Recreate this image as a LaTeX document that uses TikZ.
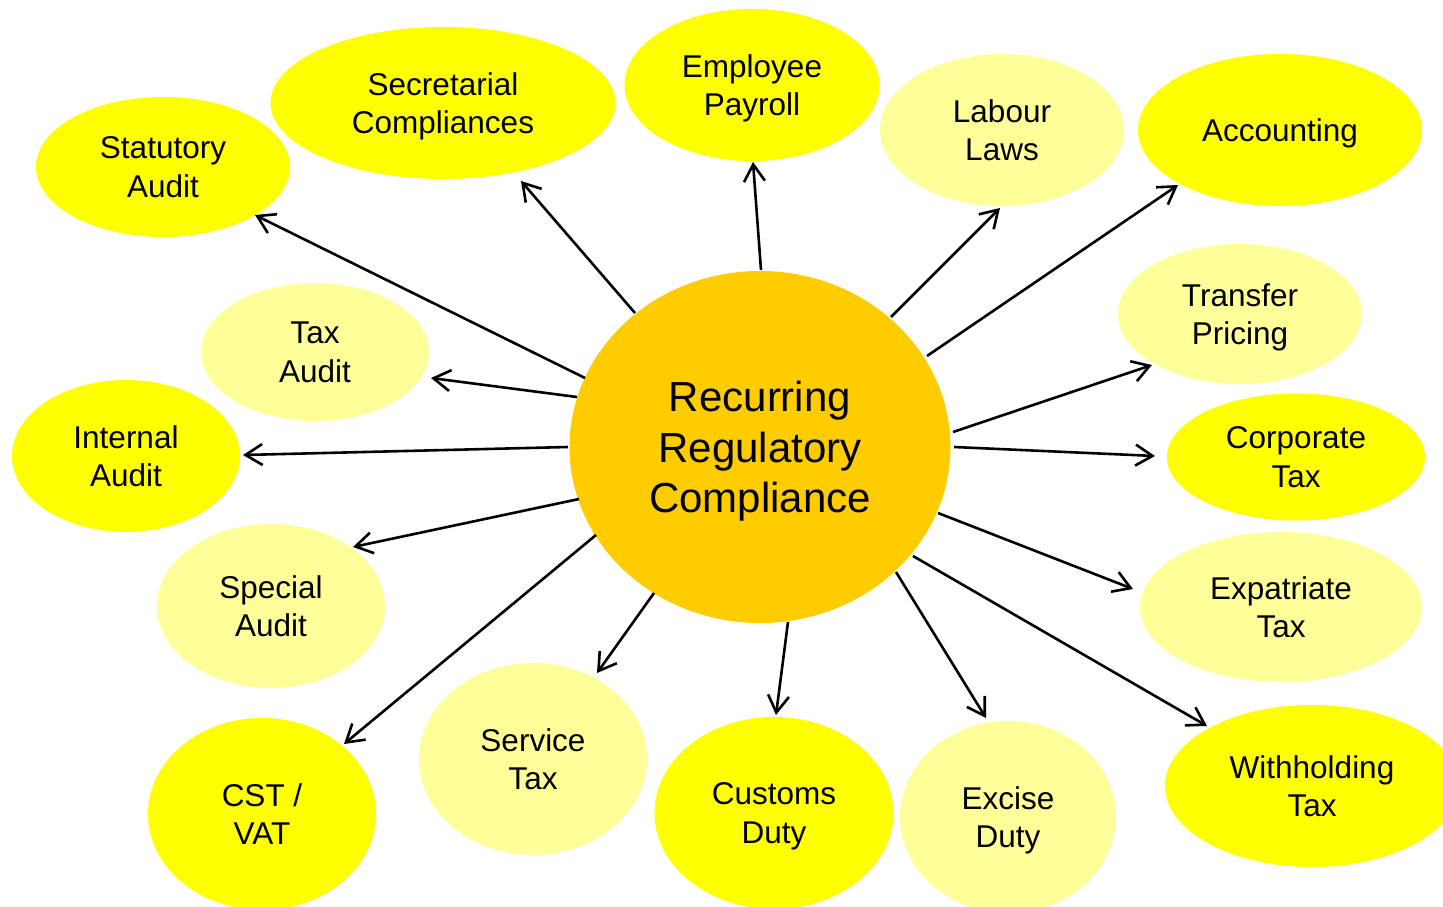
\documentclass[tikz,border=0pt]{standalone}
\usepackage{fontspec}
\setmainfont{Liberation Sans}
\usetikzlibrary{shapes.geometric,arrows.meta}
\definecolor{yel}{HTML}{FFFF00}
\definecolor{lyel}{HTML}{FFFF99}
\definecolor{gold}{HTML}{FFCC00}
\newcommand\nd[1]{\raisebox{0pt}[\height][0pt]{#1}}
\begin{document}
\begin{tikzpicture}[x=1pt,y=-1pt,
  bub/.style={ellipse,inner sep=0pt,align=center,font=\fontsize{31.5}{38.5}\selectfont},
  dark/.style={bub,fill=yel},
  light/.style={bub,fill=lyel},
  arr/.style={line width=2.6pt,-{Straight Barb[length=17pt,width=21pt]}}]
\useasboundingbox (0,0) rectangle (1443,907);
\node[dark,minimum width=254pt,minimum height=140pt] (stat) at (163,167) {Statutory\\\nd{Audit}};
\node[dark,minimum width=345pt,minimum height=152pt] (sec) at (443,103) {Secretarial\\\nd{Compliances}};
\node[dark,minimum width=255pt,minimum height=152pt] (emp) at (752,85) {Employee\\\nd{Payroll}};
\node[light,minimum width=244pt,minimum height=152pt] (lab) at (1002,130) {Labour\\\nd{Laws}};
\node[dark,minimum width=284pt,minimum height=152pt] (acc) at (1280,130) {\nd{Accounting}};
\node[light,minimum width=244pt,minimum height=140pt] (tp) at (1240,314) {Transfer\\\nd{Pricing}};
\node[dark,minimum width=258pt,minimum height=127pt] (corp) at (1296,457) {Corporate\\\nd{Tax}};
\node[light,minimum width=282pt,minimum height=150pt] (exp) at (1281,607) {Expatriate\\\nd{Tax}};
\node[dark,minimum width=294pt,minimum height=162pt] (wh) at (1312,786) {Withholding\\\nd{Tax}};
\node[light,minimum width=228pt,minimum height=138pt] (ta) at (315,352) {Tax\\\nd{Audit}};
\node[dark,minimum width=228pt,minimum height=152pt] (ia) at (126,456) {Internal\\\nd{Audit}};
\node[light,minimum width=228pt,minimum height=164pt] (sa) at (271,606) {Special\\\nd{Audit}};
\node[dark,minimum width=228pt,minimum height=192pt] (cst) at (262,814) {CST /\\\nd{VAT}};
\node[light,minimum width=228pt,minimum height=192pt] (st) at (533,759) {Service\\\nd{Tax}};
\node[dark,minimum width=239pt,minimum height=192pt] (cus) at (774,813) {Customs\\\nd{Duty}};
\node[light,minimum width=216pt,minimum height=192pt] (exc) at (1008,817) {Excise\\\nd{Duty}};
\node[ellipse,fill=gold,inner sep=0pt,minimum width=381pt,minimum height=352pt,align=center,font=\fontsize{42}{50.5}\selectfont] (c) at (760,447) {Recurring\\Regulatory\\\nd{Compliance}};
% arrow end points
\coordinate (e1) at (255,215);
\coordinate (e2) at (521,181);
\coordinate (e3) at (753,162);
\coordinate (e4) at (1000,208);
\coordinate (e5) at (1178,185);
\coordinate (e6) at (1152,365);
\coordinate (e7) at (1155,456);
\coordinate (e8) at (1133,589);
\coordinate (e9) at (1207,726);
\coordinate (e10) at (986,718);
\coordinate (e11) at (776,715);
\coordinate (e12) at (597,673);
\coordinate (e13) at (344,744);
\coordinate (e14) at (353,547);
\coordinate (e15) at (243,455);
\coordinate (e16) at (431,378);
% arrow start points
\coordinate (s1) at (585,378);
\coordinate (s2) at (635,313);
\coordinate (s3) at (761,270);
\coordinate (s4) at (891,317);
\coordinate (s5) at (927,356);
\coordinate (s6) at (953,432);
\coordinate (s7) at (954,447);
\coordinate (s8) at (938,513);
\coordinate (s9) at (913,556);
\coordinate (s10) at (896,572);
\coordinate (s11) at (788,622);
\coordinate (s12) at (654,593);
\coordinate (s13) at (596,535);
\coordinate (s14) at (579,499);
\coordinate (s15) at (568,447);
\coordinate (s16) at (577,397);
\foreach \i in {1,...,16} {\draw[arr] (s\i) -- (e\i);}
\end{tikzpicture}
\end{document}
